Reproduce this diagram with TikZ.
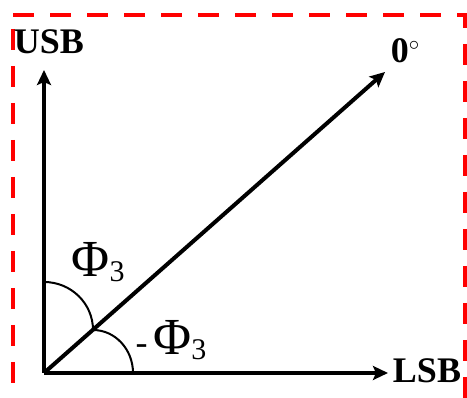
\documentclass[tikz,border=0pt]{standalone}
\usepackage{fontspec}
\setmainfont{Liberation Serif}
\usetikzlibrary{arrows.meta}
\begin{document}
\begin{tikzpicture}[x=1pt,y=1pt,
  axisLine/.style={line width=4pt, -{Stealth[length=15pt,width=14pt,inset=3pt]}},
  angleArc/.style={line width=2pt},
  axisLabel/.style={font=\fontsize{36}{36}\selectfont\bfseries, inner sep=0pt},
  angleLabel/.style={font=\fontsize{52}{52}\selectfont, inner sep=0pt},
  borderLine/.style={red, line width=4pt, dash pattern=on 21pt off 16pt}
]
\useasboundingbox (0,0) rectangle (467,398);
\draw[borderLine] (13,383)--(465,383)--(465,-5);
\draw[borderLine] (13,369)--(13,-5);
\coordinate (o) at (44,25);
\coordinate (usbEnd) at (44,328);
\coordinate (lsbEnd) at (388,25);
\coordinate (zeroEnd) at (385,326);
\coordinate (cross) at (93,68);
\draw[axisLine] (o)--(usbEnd);
\draw[axisLine] (o)--(lsbEnd);
\draw[axisLine] (o)--(zeroEnd);
\draw[angleArc] (44,116) arc[start angle=90, end angle=0, x radius=49, y radius=48];
\draw[angleArc] (cross) arc[start angle=90, end angle=0, x radius=40, y radius=43];
\node[axisLabel] (usb) at (49,356){USB};
\node[axisLabel] (zero) at (405,347){0\raisebox{12pt}{\fontsize{20}{20}\selectfont$\circ$}};
\node[axisLabel] (lsb) at (427,27){LSB};
\node[angleLabel] (phiUp) at (98,136){Φ\raisebox{-5pt}{\fontsize{30}{30}\selectfont 3}};
\node[angleLabel] (phiLow) at (171,58){\fontsize{36}{36}\selectfont -\,\fontsize{52}{52}\selectfont Φ\raisebox{-5pt}{\fontsize{30}{30}\selectfont 3}};
\end{tikzpicture}
\end{document}
